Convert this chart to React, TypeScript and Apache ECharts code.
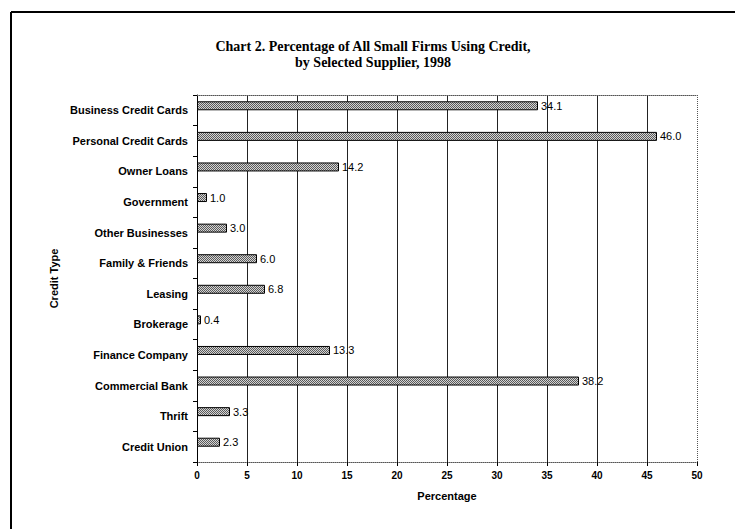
import React, { useEffect, useRef } from "react";
import * as echarts from "echarts";

const categories = [
  "Business Credit Cards",
  "Personal Credit Cards",
  "Owner Loans",
  "Government",
  "Other Businesses",
  "Family & Friends",
  "Leasing",
  "Brokerage",
  "Finance Company",
  "Commercial Bank",
  "Thrift",
  "Credit Union",
];
const percentages = [34.1, 46.0, 14.2, 1.0, 3.0, 6.0, 6.8, 0.4, 13.3, 38.2, 3.3, 2.3];
const spacer: number[] = [];
const titleLines = [
  "Chart 2. Percentage of All Small Firms Using Credit,",
  "by Selected Supplier, 1998",
];

const SANS = '"Liberation Sans", Arial, sans-serif';
const SERIF = '"Liberation Serif", "Times New Roman", serif';

const GRID = { left: 197, right: 38, top: 95, bottom: 67 };
const W = 735;
const H = 529;

const patternSvg =
  "data:image/svg+xml;utf8," +
  encodeURIComponent(
    "<svg xmlns='http://www.w3.org/2000/svg' width='2' height='2'><rect width='2' height='2' fill='#d4d4d4'/><rect width='1' height='1' fill='#5a5a5a'/><rect x='1' y='1' width='1' height='1' fill='#5a5a5a'/></svg>"
  );

export default function App() {
  const ref = useRef<HTMLDivElement>(null);
  useEffect(() => {
    if (!ref.current) return;
    const chart = echarts.init(ref.current, null, { renderer: "svg" });
    const rightX = W - GRID.right + 0.5;
    chart.setOption({
      animation: false,
      backgroundColor: "#fff",
      grid: { ...GRID, containLabel: false },
      graphic: [
        { type: "line", shape: { x1: 11, y1: 12, x2: W, y2: 12 }, style: { stroke: "#000", lineWidth: 2 } },
        { type: "line", shape: { x1: 11, y1: 12, x2: 11, y2: H }, style: { stroke: "#000", lineWidth: 2 } },
        {
          type: "line",
          z: 10,
          shape: { x1: rightX, y1: GRID.top, x2: rightX, y2: H - GRID.bottom },
          style: { stroke: "#555", lineWidth: 1, lineDash: [1, 1] },
        },
        {
          type: "text",
          x: 373,
          y: 46,
          style: { text: titleLines[0], font: `bold 14px ${SERIF}`, fill: "#000", textAlign: "center", textVerticalAlign: "middle" },
        },
        {
          type: "text",
          x: 373,
          y: 62,
          style: { text: titleLines[1], font: `bold 14px ${SERIF}`, fill: "#000", textAlign: "center", textVerticalAlign: "middle" },
        },
      ],
      xAxis: [
        {
          type: "value",
          min: 0,
          max: 50,
          interval: 5,
          position: "bottom",
          name: "Percentage",
          nameLocation: "middle",
          nameGap: 28,
          nameTextStyle: { fontFamily: SANS, fontWeight: "bold", fontSize: 11, color: "#000" },
          axisLine: { show: true, onZero: false, lineStyle: { color: "#555", type: "dotted", width: 1 } },
          axisTick: { show: true, length: 4, lineStyle: { color: "#000" } },
          axisLabel: { fontFamily: SANS, fontWeight: "bold", fontSize: 10, color: "#000", margin: 8 },
          splitLine: { show: true, showMinLine: false, showMaxLine: false, lineStyle: { color: "#222", width: 1 } },
        },
        {
          type: "value",
          min: 0,
          max: 50,
          interval: 5,
          position: "top",
          axisLine: { show: true, onZero: false, lineStyle: { color: "#555", type: "dotted", width: 1 } },
          axisTick: { show: false },
          axisLabel: { show: false },
          splitLine: { show: false },
        },
      ],
      yAxis: [
        {
          type: "category",
          data: categories,
          inverse: true,
          position: "left",
          name: "Credit Type",
          nameLocation: "middle",
          nameGap: 133,
          nameTextStyle: { fontFamily: SANS, fontWeight: "bold", fontSize: 11, color: "#000" },
          axisLine: { show: true, onZero: false, lineStyle: { color: "#000", width: 1 } },
          axisTick: { show: true, length: 4, lineStyle: { color: "#000" } },
          axisLabel: { fontFamily: SANS, fontWeight: "bold", fontSize: 11, color: "#000", margin: 9 },
          splitLine: { show: false },
        },
      ],
      series: [
        {
          type: "bar",
          data: percentages,
          xAxisIndex: 0,
          yAxisIndex: 0,
          barWidth: 9,
          barGap: "0%",
          itemStyle: {
            color: { image: patternSvg, repeat: "repeat", imageWidth: 2, imageHeight: 2 },
            borderColor: "#000",
            borderWidth: 1,
          },
          label: {
            show: true,
            position: "right",
            distance: 3,
            fontFamily: SANS,
            fontSize: 11,
            color: "#000",
            formatter: (p: any) => Number(p.value).toFixed(1),
          },
        },
        {
          type: "bar",
          data: spacer,
          xAxisIndex: 0,
          yAxisIndex: 0,
          barWidth: 9,
          silent: true,
        },
      ],
    });
    return () => chart.dispose();
  }, []);
  return (
    <div
      ref={ref}
      style={{ position: "fixed", left: 0, top: 0, width: W, height: H, background: "#fff" }}
    />
  );
}
